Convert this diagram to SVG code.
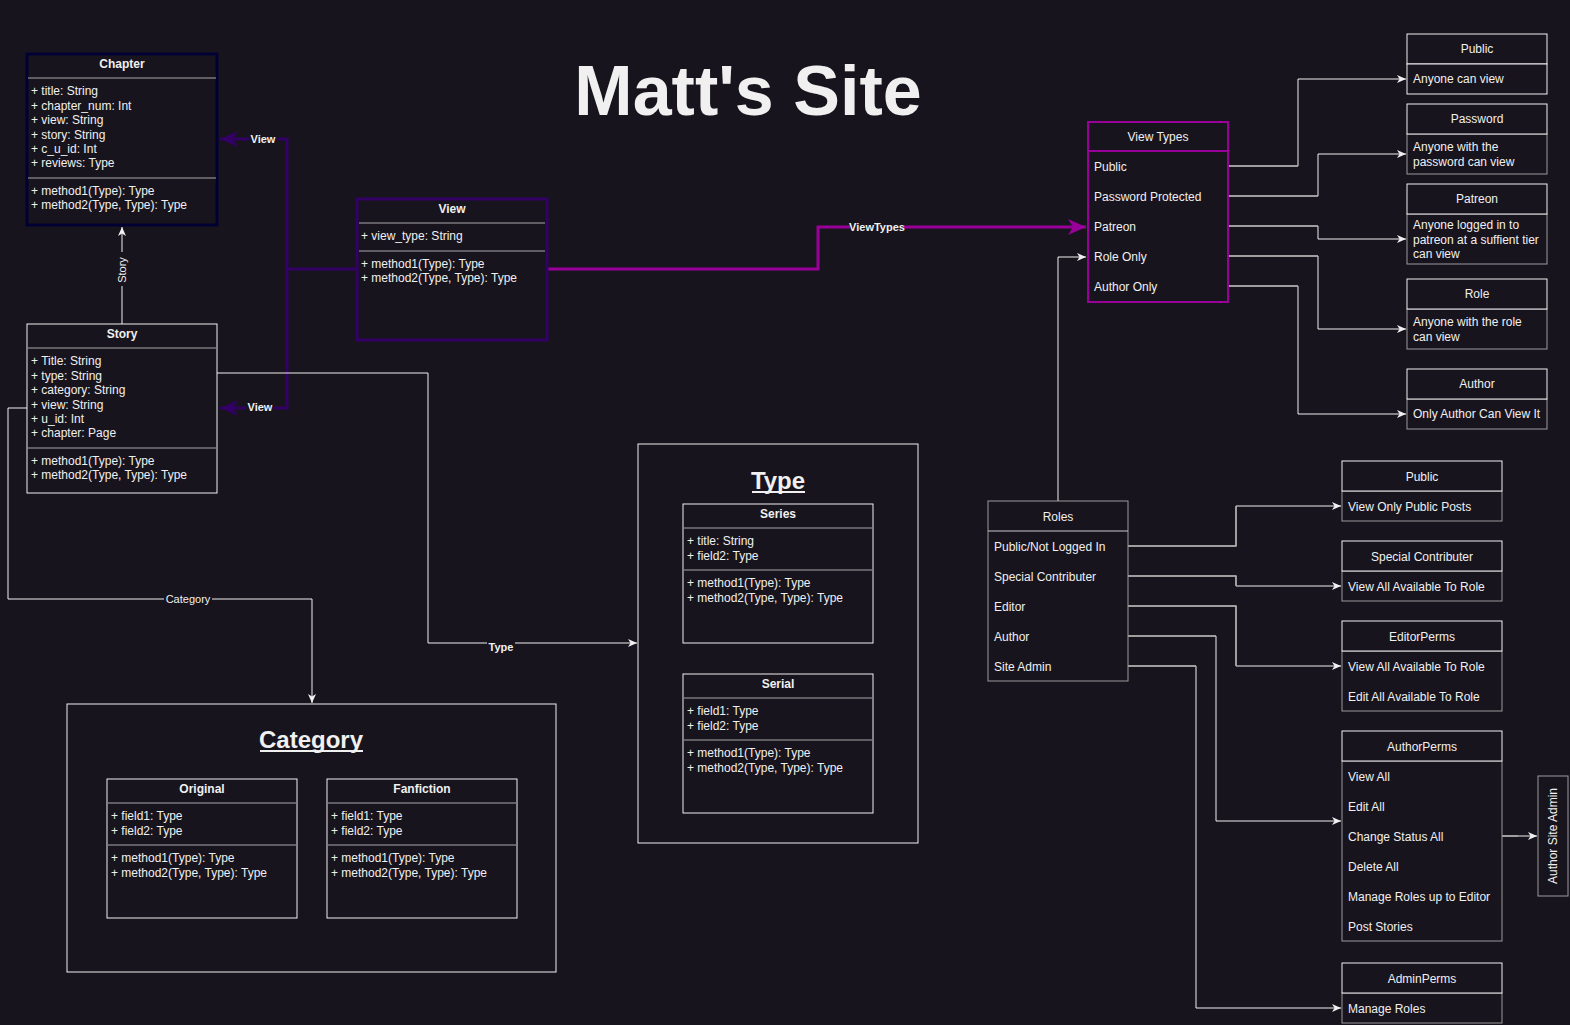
<svg xmlns="http://www.w3.org/2000/svg" width="1570" height="1025" viewBox="0 0 1570 1025">
<style>
text{font-family:"Liberation Sans",Arial,sans-serif;fill:#f0f0f0;font-size:12px}
.h{font-weight:bold;text-anchor:middle}
.c{text-anchor:middle}
.box{fill:#18141d;stroke:#f0f0f0;stroke-width:1}
.gbox{fill:#18141d;stroke:#9a9a9a;stroke-width:1}
.sep{stroke:#a8a8a8;stroke-width:1}
.e{fill:none;stroke:#f0f0f0;stroke-width:1}
.eg{fill:none;stroke:#a8a8a8;stroke-width:1.5}
.lbl{font-size:11px;font-weight:bold}
.lbn{font-size:11px}
.lbg{fill:#18141d}
</style>
<defs>
<marker id="aw" markerUnits="userSpaceOnUse" markerWidth="10" markerHeight="10" refX="9" refY="4" orient="auto"><path d="M0,0 L9,4 L0,8 L2.5,4 z" fill="#f0f0f0"/></marker>
<marker id="ap" markerUnits="userSpaceOnUse" markerWidth="20" markerHeight="20" refX="18" refY="8" orient="auto"><path d="M0,0 L18,8 L0,16 L5,8 z" fill="#330066"/></marker>
<marker id="am" markerUnits="userSpaceOnUse" markerWidth="20" markerHeight="20" refX="18" refY="8" orient="auto"><path d="M0,0 L18,8 L0,16 L5,8 z" fill="#990099"/></marker>
</defs>
<rect width="1570" height="1025" fill="#18141d"/>
<text x="748" y="115" class="h" style="font-size:70px">Matt's Site</text>

<g id="connectors">
<path d="M357,269 H287 V139 H220" fill="none" stroke="#330066" stroke-width="3" marker-end="url(#ap)"/>
<path d="M287,269 V408 H220" fill="none" stroke="#330066" stroke-width="3" marker-end="url(#ap)"/>
<rect x="249" y="132" width="28" height="13" class="lbg"/><text x="263" y="143" class="lbl c">View</text>
<rect x="246" y="400" width="28" height="13" class="lbg"/><text x="260" y="411" class="lbl c">View</text>
<path d="M548,269 H818 V227 H1086" fill="none" stroke="#990099" stroke-width="3" marker-end="url(#am)"/>
<rect x="850" y="220" width="54" height="13" class="lbg"/><text x="877" y="231" class="lbl c">ViewTypes</text>
<path d="M122,324 V227" class="e" marker-end="url(#aw)"/>
<rect x="115" y="252" width="14" height="34" class="lbg"/><text x="0" y="0" class="lbn c" transform="translate(126,270) rotate(-90)">Story</text>
<path d="M217,373 H428 V643 H637" class="e" marker-end="url(#aw)"/>
<rect x="487" y="640" width="28" height="13" class="lbg"/><text x="501" y="651" class="lbl c">Type</text>
<path d="M27,408 H8 V599 H312 V703" class="e" marker-end="url(#aw)"/>
<rect x="164" y="592" width="48" height="13" class="lbg"/><text x="188" y="603" class="lbn c">Category</text>
<path d="M1228,166 H1298 V79 H1406" class="e" marker-end="url(#aw)"/>
<path d="M1228,196 H1318 V154 H1406" class="e" marker-end="url(#aw)"/>
<path d="M1228,226 H1318 V239 H1406" class="e" marker-end="url(#aw)"/>
<path d="M1228,256 H1318 V329 H1406" class="e" marker-end="url(#aw)"/>
<path d="M1228,286 H1298 V414 H1406" class="e" marker-end="url(#aw)"/>
<path d="M1228,166 H1298 M1228,196 H1318 M1228,226 H1318 M1228,256 H1318 M1228,286 H1298" class="eg"/>
<path d="M1058,501 V257 H1086" class="e" marker-end="url(#aw)"/>
<path d="M1128,546 H1236 V506 H1341" class="e" marker-end="url(#aw)"/>
<path d="M1128,576 H1236 V586 H1341" class="e" marker-end="url(#aw)"/>
<path d="M1128,606 H1236 V666 H1341" class="e" marker-end="url(#aw)"/>
<path d="M1128,636 H1216 V821 H1341" class="e" marker-end="url(#aw)"/>
<path d="M1128,666 H1196 V1008 H1341" class="e" marker-end="url(#aw)"/>
<path d="M1128,546 H1236 V506 M1128,576 H1236 V586 M1128,606 H1236 V666 M1128,636 H1216 M1128,666 H1196" class="eg"/>
<path d="M1502,836 H1537" class="e" marker-end="url(#aw)"/>
<path d="M1502,836 H1518" class="eg"/>
</g>

<g id="chapter">
<rect x="27" y="54" width="190" height="171" fill="#18141d" stroke="#000033" stroke-width="3"/>
<text x="122" y="68" class="h">Chapter</text>
<line x1="28" y1="78" x2="216" y2="78" class="sep"/>
<text x="31" y="95">+ title: String</text>
<text x="31" y="110">+ chapter_num: Int</text>
<text x="31" y="124">+ view: String</text>
<text x="31" y="139">+ story: String</text>
<text x="31" y="153">+ c_u_id: Int</text>
<text x="31" y="167">+ reviews: Type</text>
<line x1="28" y1="178" x2="216" y2="178" class="sep"/>
<text x="31" y="195">+ method1(Type): Type</text>
<text x="31" y="209">+ method2(Type, Type): Type</text>
</g>

<g id="story">
<rect x="27" y="324" width="190" height="169" class="box"/>
<text x="122" y="338" class="h">Story</text>
<line x1="28" y1="348" x2="216" y2="348" class="sep"/>
<text x="31" y="365">+ Title: String</text>
<text x="31" y="380">+ type: String</text>
<text x="31" y="394">+ category: String</text>
<text x="31" y="409">+ view: String</text>
<text x="31" y="423">+ u_id: Int</text>
<text x="31" y="437">+ chapter: Page</text>
<line x1="28" y1="448" x2="216" y2="448" class="sep"/>
<text x="31" y="465">+ method1(Type): Type</text>
<text x="31" y="479">+ method2(Type, Type): Type</text>
</g>

<g id="view">
<rect x="357" y="199" width="190" height="141" fill="#18141d" stroke="#330066" stroke-width="3"/>
<text x="452" y="213" class="h">View</text>
<line x1="359" y1="223" x2="545" y2="223" class="sep"/>
<text x="361" y="240">+ view_type: String</text>
<line x1="359" y1="251" x2="545" y2="251" class="sep"/>
<text x="361" y="268">+ method1(Type): Type</text>
<text x="361" y="282">+ method2(Type, Type): Type</text>
</g>

<g id="viewtypes">
<rect x="1088" y="122" width="140" height="180" fill="#18141d" stroke="#990099" stroke-width="2"/>
<line x1="1088" y1="151" x2="1228" y2="151" stroke="#990099" stroke-width="2"/>
<text x="1158" y="141" class="c">View Types</text>
<text x="1094" y="171">Public</text>
<text x="1094" y="201">Password Protected</text>
<text x="1094" y="231">Patreon</text>
<text x="1094" y="261">Role Only</text>
<text x="1094" y="291">Author Only</text>
</g>

<g id="vt-public">
<rect x="1407" y="34" width="140" height="30" class="box"/>
<rect x="1407" y="64" width="140" height="30" class="box"/>
<text x="1477" y="53" class="c">Public</text>
<text x="1413" y="83">Anyone can view</text>
</g>
<g id="vt-password">
<rect x="1407" y="134" width="140" height="40" class="gbox"/>
<rect x="1407" y="104" width="140" height="30" class="box"/>
<text x="1477" y="123" class="c">Password</text>
<text x="1413" y="151">Anyone with the</text>
<text x="1413" y="166">password can view</text>
</g>
<g id="vt-patreon">
<rect x="1407" y="214" width="140" height="50" class="gbox"/>
<rect x="1407" y="184" width="140" height="30" class="box"/>
<text x="1477" y="203" class="c">Patreon</text>
<text x="1413" y="229">Anyone logged in to</text>
<text x="1413" y="244">patreon at a suffient tier</text>
<text x="1413" y="258">can view</text>
</g>
<g id="vt-role">
<rect x="1407" y="309" width="140" height="40" class="gbox"/>
<rect x="1407" y="279" width="140" height="30" class="box"/>
<text x="1477" y="298" class="c">Role</text>
<text x="1413" y="326">Anyone with the role</text>
<text x="1413" y="341">can view</text>
</g>
<g id="vt-author">
<rect x="1407" y="399" width="140" height="30" class="gbox"/>
<rect x="1407" y="369" width="140" height="30" class="box"/>
<text x="1477" y="388" class="c">Author</text>
<text x="1413" y="418">Only Author Can View It</text>
</g>

<g id="roles">
<rect x="988" y="501" width="140" height="180" class="gbox"/>
<line x1="988" y1="531" x2="1128" y2="531" stroke="#c8c8c8"/>
<text x="1058" y="521" class="c">Roles</text>
<text x="994" y="551">Public/Not Logged In</text>
<text x="994" y="581">Special Contributer</text>
<text x="994" y="611">Editor</text>
<text x="994" y="641">Author</text>
<text x="994" y="671">Site Admin</text>
</g>

<g id="perm-public">
<rect x="1342" y="491" width="160" height="30" class="gbox"/>
<rect x="1342" y="461" width="160" height="30" class="box"/>
<text x="1422" y="481" class="c">Public</text>
<text x="1348" y="511">View Only Public Posts</text>
</g>
<g id="perm-special">
<rect x="1342" y="571" width="160" height="30" class="gbox"/>
<rect x="1342" y="541" width="160" height="30" class="box"/>
<text x="1422" y="561" class="c">Special Contributer</text>
<text x="1348" y="591">View All Available To Role</text>
</g>
<g id="perm-editor">
<rect x="1342" y="651" width="160" height="60" class="gbox"/>
<rect x="1342" y="621" width="160" height="30" class="box"/>
<text x="1422" y="641" class="c">EditorPerms</text>
<text x="1348" y="671">View All Available To Role</text>
<text x="1348" y="701">Edit All Available To Role</text>
</g>
<g id="perm-author">
<rect x="1342" y="761" width="160" height="180" class="gbox"/>
<rect x="1342" y="731" width="160" height="30" class="box"/>
<text x="1422" y="751" class="c">AuthorPerms</text>
<text x="1348" y="781">View All</text>
<text x="1348" y="811">Edit All</text>
<text x="1348" y="841">Change Status All</text>
<text x="1348" y="871">Delete All</text>
<text x="1348" y="901">Manage Roles up to Editor</text>
<text x="1348" y="931">Post Stories</text>
</g>
<g id="perm-admin">
<rect x="1342" y="993" width="160" height="30" class="gbox"/>
<rect x="1342" y="963" width="160" height="30" class="box"/>
<text x="1422" y="983" class="c">AdminPerms</text>
<text x="1348" y="1013">Manage Roles</text>
</g>
<g id="author-site-admin">
<rect x="1538" y="776" width="30" height="120" class="gbox"/>
<text x="0" y="0" class="c" transform="translate(1557,836) rotate(-90)">Author Site Admin</text>
</g>

<g id="type">
<rect x="638" y="444" width="280" height="399" class="box"/>
<text x="778" y="489" class="h" style="font-size:24px">Type</text>
<line x1="752" y1="492" x2="805" y2="492" stroke="#f0f0f0" stroke-width="2"/>
</g>
<g id="series">
<rect x="683" y="504" width="190" height="139" class="box"/>
<text x="778" y="518" class="h">Series</text>
<line x1="684" y1="528" x2="872" y2="528" class="sep"/>
<text x="687" y="545">+ title: String</text>
<text x="687" y="560">+ field2: Type</text>
<line x1="684" y1="570" x2="872" y2="570" class="sep"/>
<text x="687" y="587">+ method1(Type): Type</text>
<text x="687" y="602">+ method2(Type, Type): Type</text>
</g>
<g id="serial">
<rect x="683" y="674" width="190" height="139" class="box"/>
<text x="778" y="688" class="h">Serial</text>
<line x1="684" y1="698" x2="872" y2="698" class="sep"/>
<text x="687" y="715">+ field1: Type</text>
<text x="687" y="730">+ field2: Type</text>
<line x1="684" y1="740" x2="872" y2="740" class="sep"/>
<text x="687" y="757">+ method1(Type): Type</text>
<text x="687" y="772">+ method2(Type, Type): Type</text>
</g>

<g id="category">
<rect x="67" y="704" width="489" height="268" class="box"/>
<text x="311" y="748" class="h" style="font-size:24px">Category</text>
<line x1="260" y1="751" x2="363" y2="751" stroke="#f0f0f0" stroke-width="2"/>
</g>
<g id="original">
<rect x="107" y="779" width="190" height="139" class="box"/>
<text x="202" y="793" class="h">Original</text>
<line x1="108" y1="803" x2="296" y2="803" class="sep"/>
<text x="111" y="820">+ field1: Type</text>
<text x="111" y="835">+ field2: Type</text>
<line x1="108" y1="845" x2="296" y2="845" class="sep"/>
<text x="111" y="862">+ method1(Type): Type</text>
<text x="111" y="877">+ method2(Type, Type): Type</text>
</g>
<g id="fanfiction">
<rect x="327" y="779" width="190" height="139" class="box"/>
<text x="422" y="793" class="h">Fanfiction</text>
<line x1="328" y1="803" x2="516" y2="803" class="sep"/>
<text x="331" y="820">+ field1: Type</text>
<text x="331" y="835">+ field2: Type</text>
<line x1="328" y1="845" x2="516" y2="845" class="sep"/>
<text x="331" y="862">+ method1(Type): Type</text>
<text x="331" y="877">+ method2(Type, Type): Type</text>
</g>
</svg>
